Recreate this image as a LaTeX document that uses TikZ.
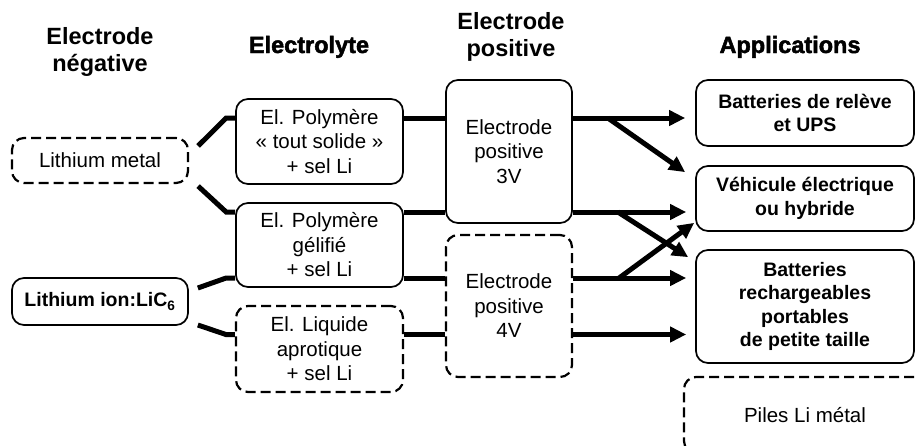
\documentclass[tikz,border=0pt]{standalone}
\usepackage{fontspec}
\setmainfont{Liberation Sans}
\newfontfamily\heavyfont[FakeBold=2]{Liberation Sans Bold}
\usepackage{tikz}
\usetikzlibrary{calc,positioning,arrows.meta,shapes}

\begin{document}
\begin{tikzpicture}[x=1pt,y=-1pt]
    \tikzset{every node/.style={align=center,inner sep=0pt},
      box/.style={draw,rounded corners=12pt,line width=1.7pt,
                  font=\fontsize{20.5}{24.5}\selectfont},
      dbox/.style={box,line width=2.2pt,dash pattern=on 10pt off 5pt},
      appbox/.style={box,minimum width=218pt,
                     font=\fontsize{19.5}{23.5}\selectfont\bfseries},
      head/.style={font=\fontsize{23.5}{27}\selectfont\bfseries},
      heavy/.style={font=\heavyfont\fontsize{23.5}{27}\selectfont},
      link/.style={line width=5pt},
      arr/.style={link,-{Triangle[length=16pt,width=15pt]}}}

    \useasboundingbox (0,0) rectangle (916,445);

    % column titles
    \node[head] (hneg) at (100,52) {Electrode\\négative};
    \node[heavy,anchor=base] (helec) at (309,53) {Electrolyte};
    \node[head] (hpos) at (511,37) {Electrode\\positive};
    \node[heavy,anchor=base] (happ) at (790,53) {Applications};

    % negative electrodes
    \node[dbox,minimum width=176pt,minimum height=45pt] (limet) at (100,160.5)
        {Lithium metal};
    \node[box,minimum width=176pt,minimum height=47pt,
          font=\fontsize{19.5}{23.5}\selectfont\bfseries] (liion) at (100,301.5)
        {Lithium ion:LiC\textsubscript{6}};

    % electrolytes
    \node[box,minimum width=167pt,minimum height=85pt] (polsol) at (319.5,141.5)
        {El. Polymère\\« tout solide »\\+ sel Li};
    \node[box,minimum width=167pt,minimum height=84pt] (polgel) at (319.5,245)
        {El. Polymère\\gélifié\\+ sel Li};
    \node[dbox,minimum width=167pt,minimum height=86pt] (liquide) at (319.5,349)
        {El. Liquide\\aprotique\\+ sel Li};

    % positive electrodes
    \node[box,minimum width=126pt,minimum height=143pt] (pos3) at (509,151.5)
        {Electrode\\positive\\3V};
    \node[dbox,minimum width=126pt,minimum height=142pt] (pos4) at (509,306)
        {Electrode\\positive\\4V};

    % applications
    \node[appbox,minimum height=66pt] (releve) at (805,113)
        {Batteries de relève\\et UPS};
    \node[appbox,minimum height=65pt] (vehic) at (805,198.5)
        {Véhicule électrique\\ou hybride};
    \node[appbox,minimum height=113pt] (recharg) at (805,306.5)
        {Batteries\\rechargeables\\portables\\de petite taille};
    \begin{scope}
    \clip (0,0) rectangle (916,445);
    \node[dbox,minimum width=242pt,minimum height=76pt] (piles) at (805,415)
        {Piles Li métal};
    \end{scope}

    % rows of the links
    \coordinate (r1) at (0,118);
    \coordinate (r2) at (0,212);
    \coordinate (r3) at (0,278);
    \coordinate (r4) at (0,334.5);

    % negative -> electrolyte
    \draw[link] ($(limet.north east)+(9,9)$) -- ($(polsol.west |- r1)+(-9,0)$)
        -- (polsol.west |- r1);
    \draw[link] ($(limet.south east)+(9,2)$) -- ($(polgel.west |- r2)+(-9,0)$)
        -- (polgel.west |- r2);
    \draw[link] ($(liion.east)+(9,-13.5)$) -- ($(polgel.west |- r3)+(-9,0)$)
        -- (polgel.west |- r3);
    \draw[link] ($(liion.east)+(9,23.5)$) -- ($(liquide.west |- r4)+(-9,0)$)
        -- (liquide.west |- r4);

    % electrolyte -> positive
    \draw[link] (polsol.east |- r1) -- (pos3.west |- r1);
    \draw[link] (polgel.east |- r2) -- (pos3.west |- r2);
    \draw[link] (polgel.east |- r3) -- (pos4.west |- r3);
    \draw[link] (liquide.east |- r4) -- (pos4.west |- r4);

    % positive -> applications
    \draw[arr] (pos3.east |- r1) -- ($(releve.west |- r1)+(-10,0)$);
    \draw[arr] ($(pos3.east |- r1)+(35,0)$) -- ($(vehic.north west)+(-10,7)$);
    \draw[arr] (pos3.east |- r2) -- ($(vehic.west |- r2)+(-9,0)$);
    \draw[arr] ($(pos3.east |- r2)+(45,0)$) -- ($(recharg.north west)+(-7,8)$);
    \draw[arr] (pos4.east |- r3) -- ($(recharg.west |- r3)+(-9,0)$);
    \draw[arr] ($(pos4.east |- r3)+(46,0)$) -- ($(vehic.south west)+(-1,-9)$);
    \draw[arr] (pos4.east |- r4) -- ($(recharg.west |- r4)+(-9,0)$);
\end{tikzpicture}
\end{document}
